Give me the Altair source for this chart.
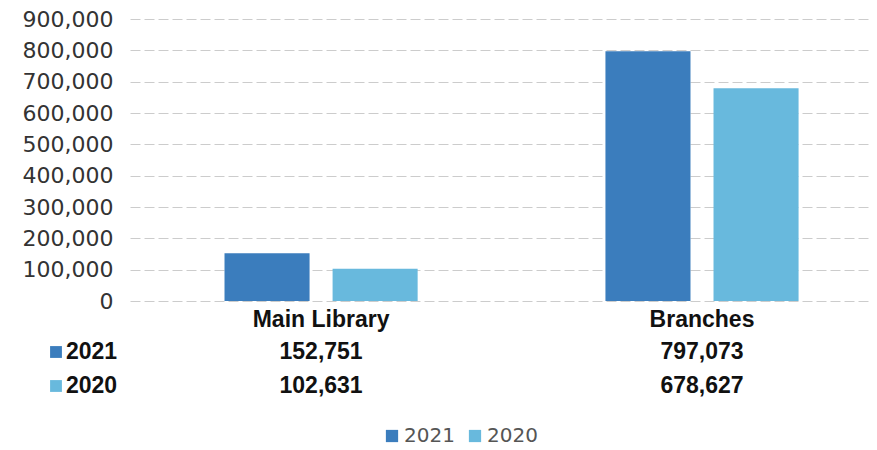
import altair as alt
import pandas as pd

categories = ["Main Library", "Branches"]
years = ["2021", "2020"]
values_2021 = [152751, 797073]
values_2020 = [102631, 678627]
colors = ["#3b7dbd", "#68b9dd"]
y_ticks = [0, 100000, 200000, 300000, 400000, 500000, 600000, 700000, 800000, 900000]

rows = []
for c, v in zip(categories, values_2021):
    rows.append({"category": c, "year": "2021", "value": v})
for c, v in zip(categories, values_2020):
    rows.append({"category": c, "year": "2020", "value": v})
df = pd.DataFrame(rows)
df["label"] = df["value"].map(lambda v: f"{v:,}")

W, H = 739, 282

xscale = alt.Scale(domain=categories, paddingInner=0.493, paddingOuter=0.2165, align=0.573)
color_scale = alt.Scale(domain=years, range=colors)

base = alt.Chart(df)

bars = base.mark_bar().encode(
    x=alt.X("category:N", scale=xscale, sort=categories,
            axis=alt.Axis(title=None, labelAngle=0, domain=False, ticks=False,
                          labelFont="Liberation Sans", labelFontSize=23, labelFontWeight="bold",
                          labelColor="#111", labelPadding=7, grid=False)),
    xOffset=alt.XOffset("year:N", scale=alt.Scale(domain=years, paddingInner=0.213, paddingOuter=0)),
    y=alt.Y("value:Q", scale=alt.Scale(domain=[0, 900000], nice=False),
            axis=alt.Axis(title=None, values=y_ticks, format=",.0f", domain=False, ticks=False,
                          labelFont="DejaVu Sans", labelFontSize=22, labelColor="#333",
                          labelPadding=17, gridColor="#cccccc", gridDash=[10, 4], gridWidth=1)),
    color=alt.Color("year:N", scale=color_scale, sort=years,
                    legend=alt.Legend(orient="none", legendX=252, legendY=407, direction="horizontal",
                                      title=None, symbolType="square", symbolSize=150,
                                      symbolStrokeWidth=0, labelFont="DejaVu Sans", labelFontSize=20,
                                      labelColor="#555", columnPadding=10, labelOffset=2)),
)

layers = [bars]
row_y = {"2021": 333, "2020": 367}
for yr in years:
    layers.append(
        base.transform_filter(alt.datum.year == yr).mark_text(
            font="Liberation Sans", fontSize=23, fontWeight="bold", color="#111", baseline="middle"
        ).encode(x=alt.X("category:N", scale=xscale, sort=categories), y=alt.value(row_y[yr]), text="label:N")
    )
    yr_df = pd.DataFrame({"year": [yr]})
    layers.append(
        alt.Chart(yr_df).mark_point(shape="square", filled=True, size=140, opacity=1).encode(
            x=alt.value(-74), y=alt.value(row_y[yr]),
            color=alt.Color("year:N", scale=color_scale, legend=None))
    )
    layers.append(
        alt.Chart(yr_df).mark_text(font="Liberation Sans", fontSize=23, fontWeight="bold",
                                   color="#111", align="left", baseline="middle").encode(
            x=alt.value(-64), y=alt.value(row_y[yr]), text="year:N")
    )

chart = alt.layer(*layers).properties(
    width=W, height=H,
    autosize=alt.AutoSizeParams(type="none"),
    padding={"left": 122, "top": 11, "right": 0, "bottom": 147},
).configure_view(stroke=None)

chart.save("out.html", embed_options={"renderer": "svg", "actions": False})
